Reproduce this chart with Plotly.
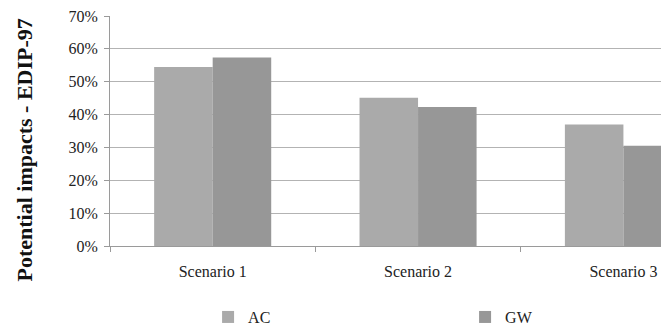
import plotly.graph_objects as go

scenarios = ["Scenario 1", "Scenario 2", "Scenario 3"]
ac_values = [0.545, 0.451, 0.370]
gw_values = [0.574, 0.423, 0.305]
y_ticks = [0, 0.1, 0.2, 0.3, 0.4, 0.5, 0.6, 0.7]
y_tick_labels = ["0%", "10%", "20%", "30%", "40%", "50%", "60%", "70%"]

serif = "Liberation Serif, Times New Roman, serif"

fig = go.Figure()
fig.add_trace(go.Bar(x=scenarios, y=ac_values, name="AC",
                     marker=dict(color="#aaaaaa", line=dict(width=0))))
fig.add_trace(go.Bar(x=scenarios, y=gw_values, name="GW",
                     marker=dict(color="#979797", line=dict(width=0))))

fig.update_layout(
    width=672, height=329,
    margin=dict(l=110, r=11, t=16, b=83, autoexpand=False),
    paper_bgcolor="white", plot_bgcolor="white",
    barmode="group", bargap=0.43, bargroupgap=0,
    font=dict(family=serif, size=16, color="#222222"),
    showlegend=True,
    legend=dict(orientation="h", x=0.178, y=-0.235, xanchor="left", yanchor="top",
                entrywidth=212, entrywidthmode="pixels", itemwidth=30,
                font=dict(family=serif, size=16, color="#222222")),
)
fig.add_annotation(
    text="<b>Potential impacts - EDIP-97</b>", textangle=-90,
    xref="paper", yref="paper", x=(25 - 110) / 551, y=0.415,
    xanchor="center", yanchor="middle", showarrow=False,
    font=dict(family=serif, size=22, color="#111111"),
)
fig.update_xaxes(
    type="category", range=[-0.5, 2.183],
    showline=True, linecolor="#9a9a9a", linewidth=1,
    ticks="outside", ticklen=5, tickcolor="#9a9a9a",
    tickson="boundaries", showgrid=False, ticklabelstandoff=11,
    tickfont=dict(family=serif, size=16, color="#222222"),
)
fig.update_yaxes(
    range=[0, 0.7], tickvals=y_ticks, ticktext=y_tick_labels,
    showline=True, linecolor="#9a9a9a", linewidth=1,
    ticks="outside", ticklen=5, tickcolor="#9a9a9a",
    showgrid=True, gridcolor="#b3b3b3", gridwidth=1,
    zeroline=False, ticklabelstandoff=3,
    tickfont=dict(family=serif, size=16, color="#222222"),
)

fig.write_html("out.html")
